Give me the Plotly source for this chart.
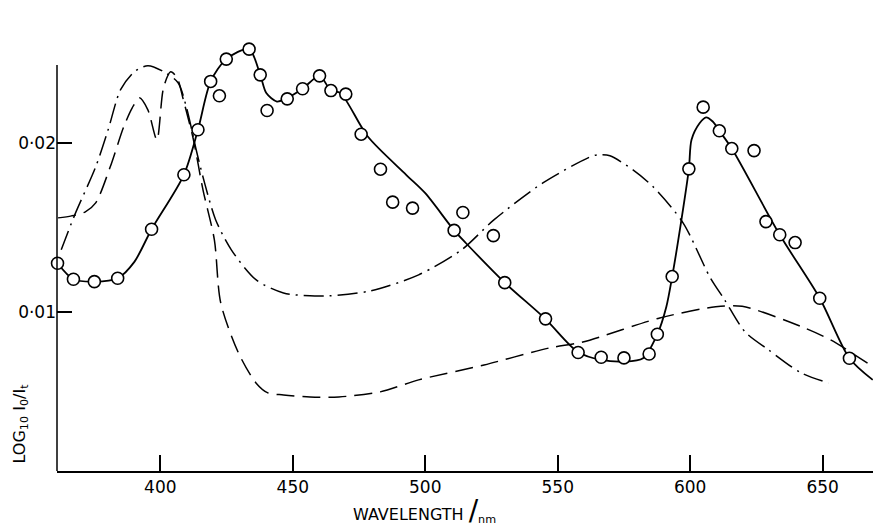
import plotly.graph_objects as go

# Measured points (open circles)
obs_nm = [361.2, 367.2, 375.1, 383.9, 396.7, 408.9, 414.2, 419.0, 422.3, 424.9,
          433.5, 437.7, 440.3, 447.9, 453.7, 460.1, 464.4, 470.0, 475.8, 483.1,
          487.7, 495.2, 510.9, 514.2, 525.7, 530.0, 545.4, 557.7, 566.4, 575.0,
          584.5, 587.6, 593.2, 599.5, 604.9, 611.0, 615.7, 624.1, 628.6, 633.8,
          639.6, 648.9, 660.1]
obs_abs = [0.01288, 0.01193, 0.01179, 0.01199, 0.01489, 0.01811, 0.02077, 0.02363, 0.02278, 0.02495,
           0.02554, 0.02402, 0.02191, 0.02260, 0.02320, 0.02396, 0.02309, 0.02288, 0.02051, 0.01844,
           0.01649, 0.01614, 0.01482, 0.01588, 0.01451, 0.01173, 0.00959, 0.00760, 0.00732, 0.00728,
           0.00751, 0.00868, 0.01209, 0.01846, 0.02211, 0.02071, 0.01966, 0.01954, 0.01534, 0.01456,
           0.01410, 0.01081, 0.00726]

# Smooth curve drawn through the measurements (solid)
fit_nm = [361.2, 367.2, 375.1, 383.9, 390.2, 396.7, 408.9, 414.2, 419.0, 424.9,
          433.5, 437.7, 440.0, 444.0, 447.2, 453.7, 460.1, 464.4, 468.0, 478.3,
          492.8, 500.0, 510.9, 515.4, 530.0, 545.3, 557.6, 566.4, 575.0, 582.2,
          587.6, 591.0, 593.2, 596.1, 599.5, 600.5, 603.6, 606.0, 608.5, 611.0,
          615.7, 633.8, 648.9, 660.1, 668.9]
fit_abs = [0.01288, 0.01193, 0.01179, 0.01199, 0.01296, 0.01489, 0.01811, 0.02077, 0.02363, 0.02495,
           0.02554, 0.02402, 0.02294, 0.02244, 0.02260, 0.02320, 0.02396, 0.02309, 0.02294, 0.02037,
           0.01811, 0.01702, 0.01482, 0.01406, 0.01173, 0.00959, 0.00763, 0.00716, 0.00706, 0.00726,
           0.00868, 0.01031, 0.01209, 0.01485, 0.01846, 0.02018, 0.02117, 0.02151, 0.02126, 0.02071,
           0.01966, 0.01456, 0.01081, 0.00726, 0.00598]

# Dashed curve
dash_nm = [361.4, 366.5, 371.7, 375.6, 381.1, 386.2, 389.4, 392.1, 395.3, 398.7,
           401.2, 403.9, 406.3, 408.7, 412.5, 416.1, 420.4, 422.8, 429.5, 436.1,
           440.6, 446.5, 456.5, 467.4, 483.0, 497.5, 522.2, 546.9, 559.5, 588.5,
           609.6, 619.6, 641.9, 653.0, 668.9]
dash_abs = [0.01556, 0.01568, 0.01592, 0.01645, 0.01858, 0.02095, 0.02207, 0.02266, 0.02195, 0.02018,
            0.02325, 0.02420, 0.02385, 0.02254, 0.02018, 0.01722, 0.01426, 0.01053, 0.00757, 0.00580,
            0.00521, 0.00509, 0.00497, 0.00497, 0.00527, 0.00598, 0.00686, 0.00787, 0.00822, 0.00964,
            0.01030, 0.01033, 0.00913, 0.00834, 0.00676]

# Dash-dot curve
dd_nm = [362.6, 367.7, 375.6, 380.3, 385.0, 390.2, 395.3, 402.0, 406.7, 409.8,
         413.8, 416.9, 420.9, 426.8, 436.2, 446.5, 456.5, 463.8, 479.3, 497.5,
         513.7, 525.9, 544.4, 563.3, 566.3, 569.7, 578.4, 586.0, 597.3, 607.4,
         613.0, 620.7, 629.6, 641.9, 652.2]
dd_abs = [0.01367, 0.01574, 0.01858, 0.02077, 0.02314, 0.02420, 0.02456, 0.02414, 0.02355, 0.02213,
          0.01941, 0.01751, 0.01544, 0.01367, 0.01189, 0.01112, 0.01095, 0.01095, 0.01124, 0.01219,
          0.01367, 0.01544, 0.01763, 0.01923, 0.01929, 0.01923, 0.01840, 0.01740, 0.01527, 0.01207,
          0.01071, 0.00882, 0.00775, 0.00639, 0.00580]

x_ticks = [400, 450, 500, 550, 600, 650]
y_ticks = [0.01, 0.02]
y_ticktext = ["0·01", "0·02"]

Y_MIN, Y_AXIS_TOP, Y_MAX = 0.00059, 0.0246, 0.0275
X_MIN, X_MAX = 361.0, 669.0

FONT = "DejaVu Sans"

fig = go.Figure()
fig.add_trace(go.Scatter(x=dash_nm, y=dash_abs, mode="lines",
                         line=dict(color="black", width=1.5, dash="18px,8px", shape="spline", smoothing=0.8),
                         hoverinfo="skip", showlegend=False))
fig.add_trace(go.Scatter(x=dd_nm, y=dd_abs, mode="lines",
                         line=dict(color="black", width=1.5, dash="20px,6px,2px,6px", shape="spline", smoothing=0.8),
                         hoverinfo="skip", showlegend=False))
fig.add_trace(go.Scatter(x=fit_nm, y=fit_abs, mode="lines",
                         line=dict(color="black", width=1.8, shape="spline", smoothing=0.8),
                         hoverinfo="skip", showlegend=False))
fig.add_trace(go.Scatter(x=obs_nm, y=obs_abs, mode="markers", cliponaxis=False,
                         marker=dict(symbol="circle", size=12, color="white",
                                     line=dict(color="black", width=1.6)),
                         showlegend=False))

fig.update_layout(
    width=873, height=530,
    margin=dict(l=57, r=0, t=16, b=59),
    paper_bgcolor="white", plot_bgcolor="white",
    font=dict(family=FONT, color="black", size=16),
    xaxis=dict(range=[X_MIN, X_MAX], tickvals=x_ticks, ticks="inside", ticklen=16,
               tickwidth=1.5, tickcolor="black", showline=True, linecolor="black",
               linewidth=1.5, showgrid=False, zeroline=False,
               tickfont=dict(family=FONT, size=17)),
    yaxis=dict(range=[Y_MIN, Y_MAX], tickvals=y_ticks, ticktext=y_ticktext,
               ticks="inside", ticklen=15, tickwidth=1.5, tickcolor="black",
               showline=False, showgrid=False,
               zeroline=False, tickfont=dict(family=FONT, size=17)),
    shapes=[dict(type="line", xref="paper", yref="y", x0=0, x1=0, y0=Y_MIN, y1=Y_AXIS_TOP,
                 line=dict(color="black", width=1.5))],
    annotations=[
        dict(text="WAVELENGTH <span style='font-size:28px'>/</span><sub>nm</sub>",
             xref="paper", yref="paper", x=0.45, y=-0.086, xanchor="center", yanchor="middle",
             showarrow=False, font=dict(family=FONT, size=16)),
        dict(text="LOG<sub>10</sub> I<sub>0</sub>/I<sub>t</sub>",
             xref="paper", yref="paper", x=-0.045, y=0.105, xanchor="center", yanchor="middle",
             textangle=-90, showarrow=False, font=dict(family=FONT, size=16)),
    ],
)

fig.write_html("out.html", config={"displayModeBar": False},
               post_script="document.body.style.margin='0';")
